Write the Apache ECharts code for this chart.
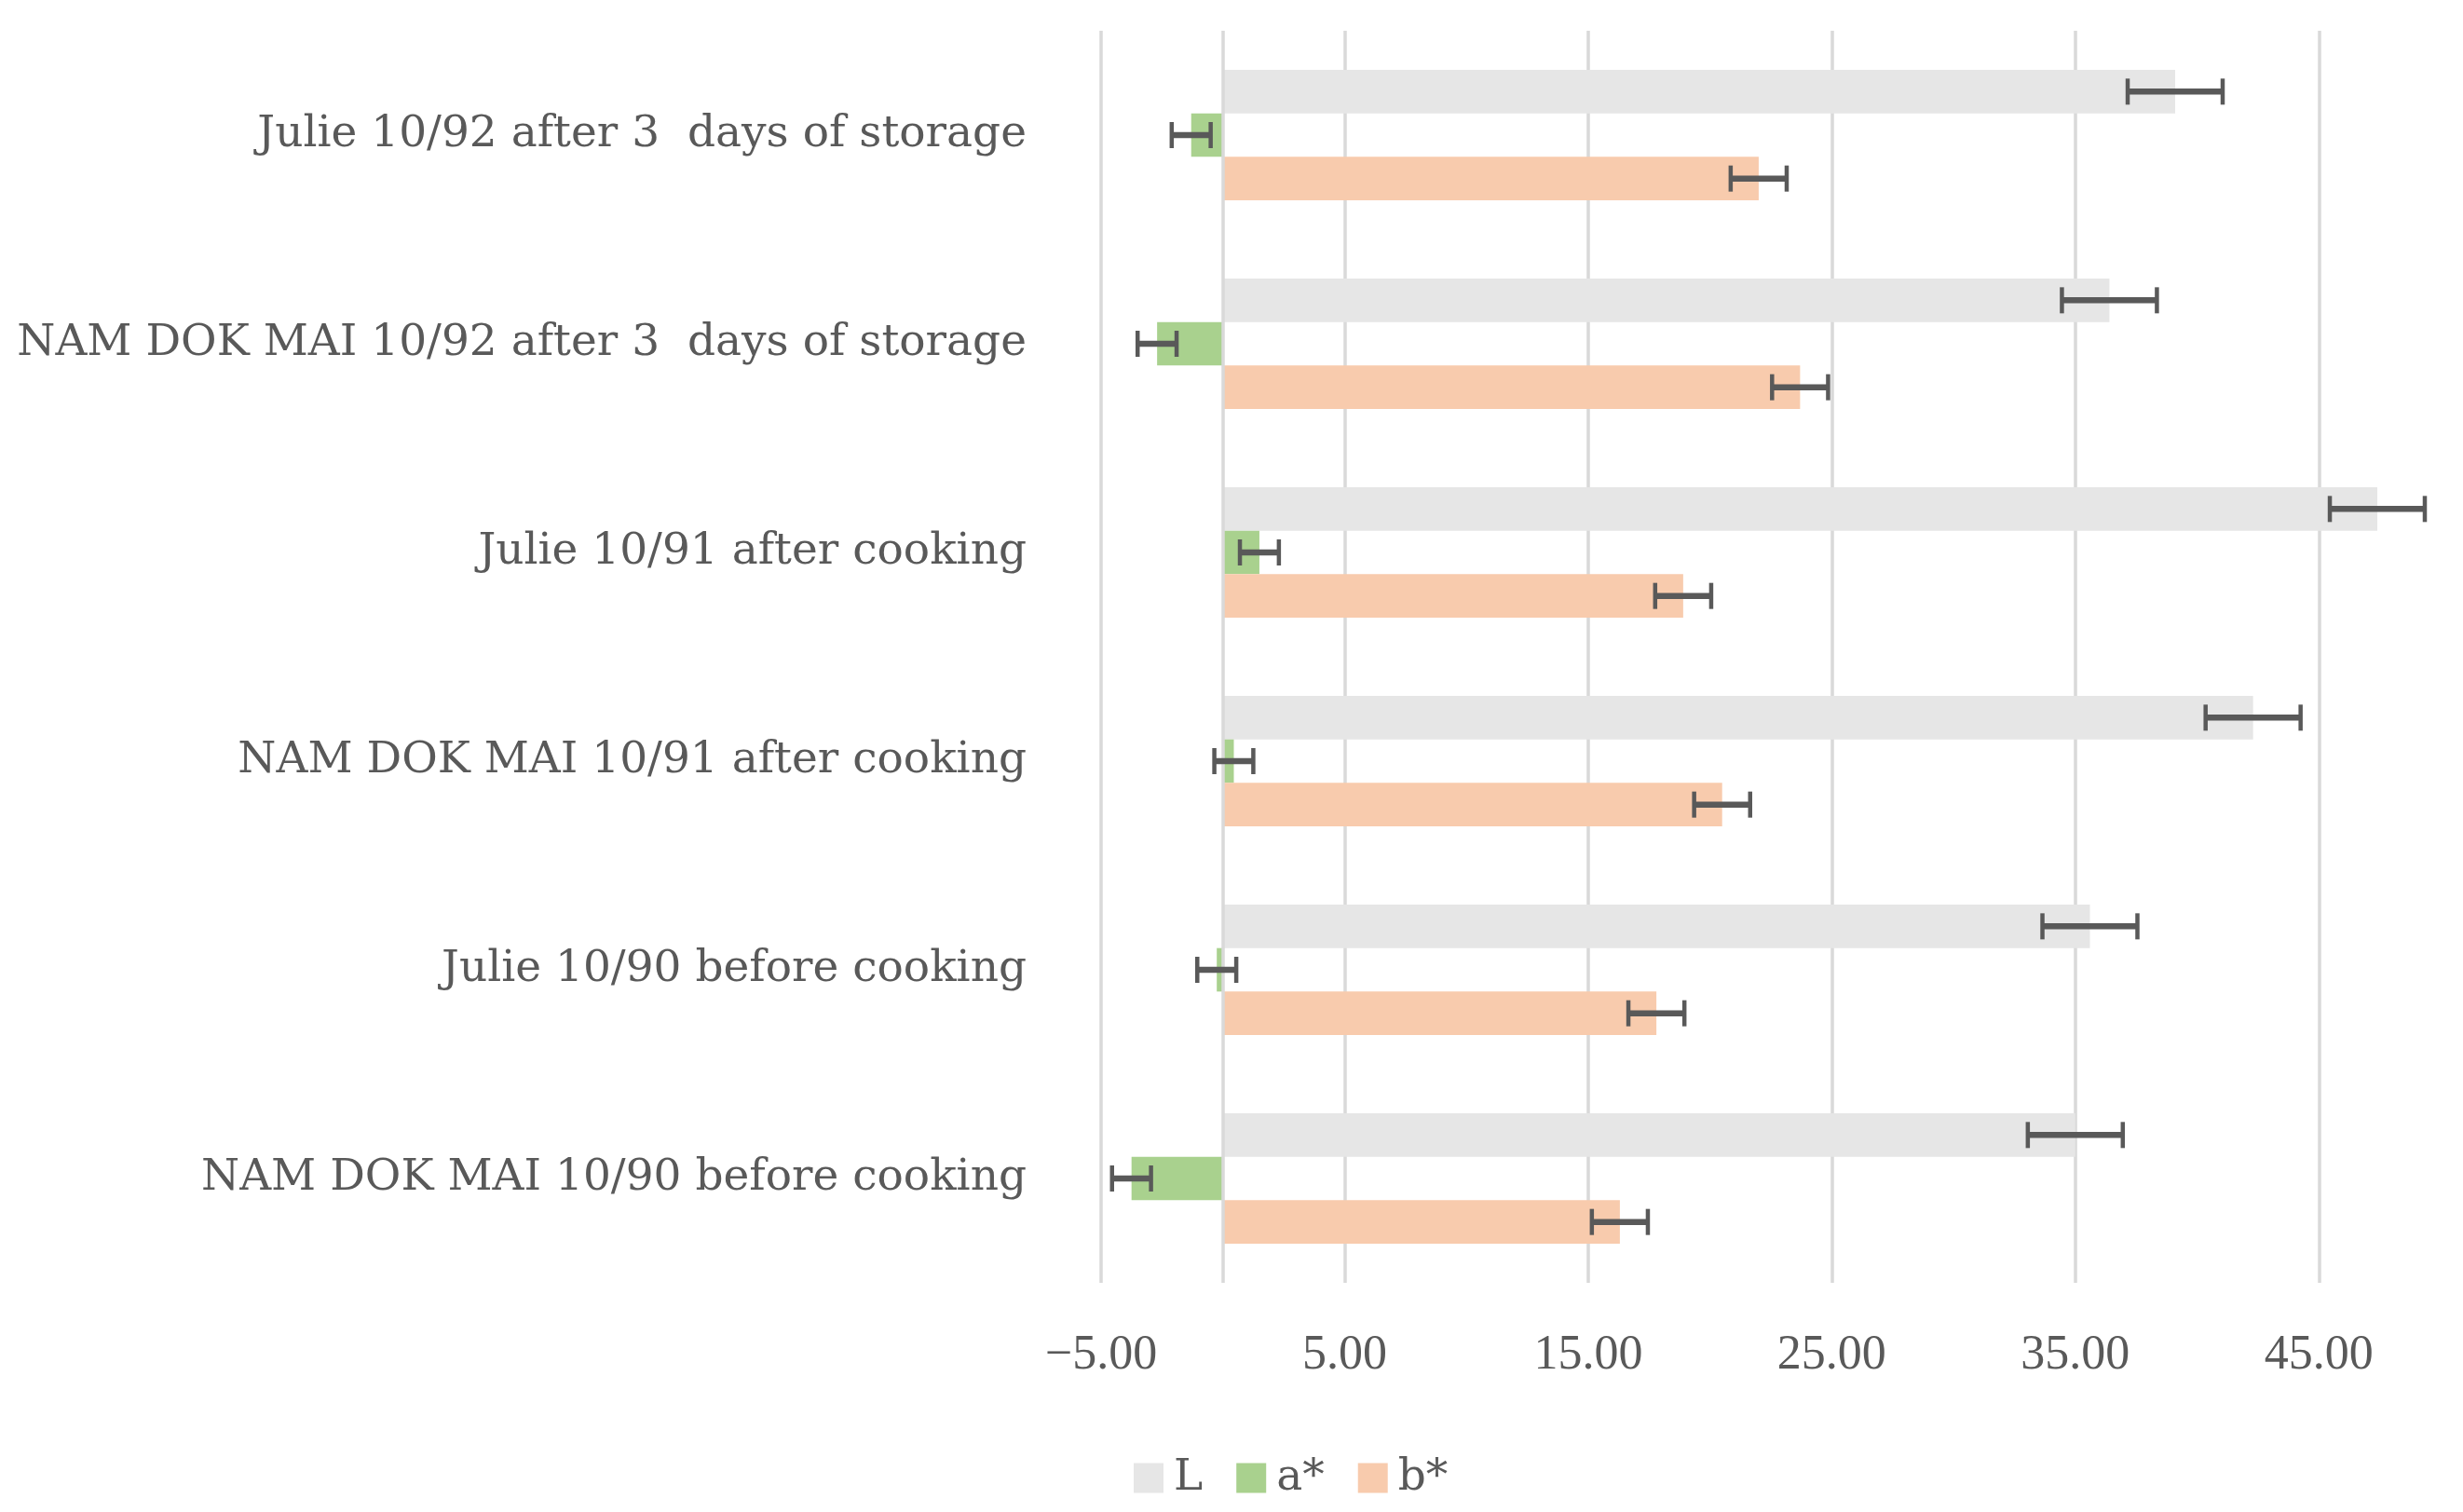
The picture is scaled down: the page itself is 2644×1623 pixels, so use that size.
<!DOCTYPE html>
<html>
<head>
<meta charset="utf-8">
<script src="https://cdn.jsdelivr.net/npm/echarts@6/dist/echarts.min.js"></script>
<style>
html,body{margin:0;padding:0;background:#fff;}
#chart{width:2644px;height:1623px;}
</style>
</head>
<body>
<div id="chart"></div>
<script>
// Categories, top to bottom as shown
const categories = [
  'Julie 10/92 after 3  days of storage',
  'NAM DOK MAI 10/92 after 3  days of storage',
  'Julie 10/91 after cooking',
  'NAM DOK MAI 10/91 after cooking',
  'Julie 10/90 before cooking',
  'NAM DOK MAI 10/90 before cooking'
];
const seriesNames = ['L', 'a*', 'b*'];
const valuesL = [39.1, 36.4, 47.4, 42.3, 35.6, 35.0];
const valuesA = [-1.3, -2.7, 1.5, 0.45, -0.25, -3.75];
const valuesB = [22.0, 23.7, 18.9, 20.5, 17.8, 16.3];
const errorsL = [1.95, 1.95, 1.95, 1.95, 1.95, 1.95];
const errorsA = [0.8, 0.8, 0.8, 0.8, 0.8, 0.8];
const errorsB = [1.15, 1.15, 1.15, 1.15, 1.15, 1.15];
const colors = ['#e6e6e6', '#a9d18e', '#f8cbad'];

const allValues = [valuesL, valuesA, valuesB];
const allErrors = [errorsL, errorsA, errorsB];
const GAP = 0.375;

const errData = [];
allValues.forEach(function (vals, k) {
  vals.forEach(function (v, i) {
    errData.push([i, v, allErrors[k][i], k]);
  });
});

const chart = echarts.init(document.getElementById('chart'));
const textColor = '#595959';

const barSeries = seriesNames.map(function (name, k) {
  return {
    name: name,
    type: 'bar',
    data: allValues[k],
    barGap: '0%',
    barCategoryGap: (GAP * 100) + '%',
    itemStyle: { color: colors[k] },
    z: 2
  };
});

const option = {
  backgroundColor: '#ffffff',
  animation: false,
  grid: { left: 1182, top: 33, width: 1438, height: 1344, containLabel: false, outerBoundsMode: 'none' },
  xAxis: {
    type: 'value',
    min: -5,
    max: 50,
    interval: 10,
    axisLine: { show: false },
    axisTick: { show: false },
    splitLine: { show: true, showMaxLine: false, lineStyle: { color: '#d9d9d9', width: 3.5 } },
    axisLabel: {
      showMaxLabel: false,
      color: textColor,
      fontFamily: 'Liberation Serif',
      fontSize: 52,
      margin: 52,
      formatter: function (v) { return (v < 0 ? '\u2212' : '') + Math.abs(v).toFixed(2); }
    }
  },
  yAxis: {
    type: 'category',
    inverse: true,
    data: categories,
    axisLine: { show: false, onZero: false },
    axisTick: { show: false },
    axisLabel: {
      color: textColor,
      fontFamily: 'DejaVu Serif',
      fontSize: 47,
      margin: 80
    }
  },
  legend: {
    data: seriesNames,
    left: 1212,
    top: 1558,
    icon: 'rect',
    itemWidth: 32,
    itemHeight: 32,
    itemGap: 36,
    textStyle: {
      color: textColor,
      fontFamily: 'DejaVu Serif',
      fontSize: 47,
      padding: [0, 0, 0, 6]
    }
  },
  series: barSeries.concat([{
    name: 'errors',
    type: 'custom',
    z: 5,
    silent: true,
    data: errData,
    encode: { x: 1, y: 0 },
    renderItem: function (params, api) {
      const cat = api.value(0), val = api.value(1), err = api.value(2), k = api.value(3);
      const band = api.size([0, 1])[1];
      const groupH = band * (1 - GAP);
      const barH = groupH / 3;
      const c = api.coord([val, cat]);
      const yc = c[1] - groupH / 2 + (k + 0.5) * barH;
      const lo = api.coord([val - err, cat])[0];
      const hi = api.coord([val + err, cat])[0];
      const cap = 14;
      const barStyle = { stroke: '#595959', lineWidth: 6.5, fill: null };
      const capStyle = { stroke: '#595959', lineWidth: 4.5, fill: null };
      return {
        type: 'group',
        children: [
          { type: 'line', shape: { x1: lo, y1: yc, x2: hi, y2: yc }, style: barStyle },
          { type: 'line', shape: { x1: lo, y1: yc - cap, x2: lo, y2: yc + cap }, style: capStyle },
          { type: 'line', shape: { x1: hi, y1: yc - cap, x2: hi, y2: yc + cap }, style: capStyle }
        ]
      };
    },
    markLine: {
      silent: true,
      symbol: ['none', 'none'],
      label: { show: false },
      lineStyle: { color: '#d9d9d9', width: 3.5, type: 'solid' },
      data: [{ xAxis: 0 }]
    }
  }])
};
chart.setOption(option);
</script>
</body>
</html>
